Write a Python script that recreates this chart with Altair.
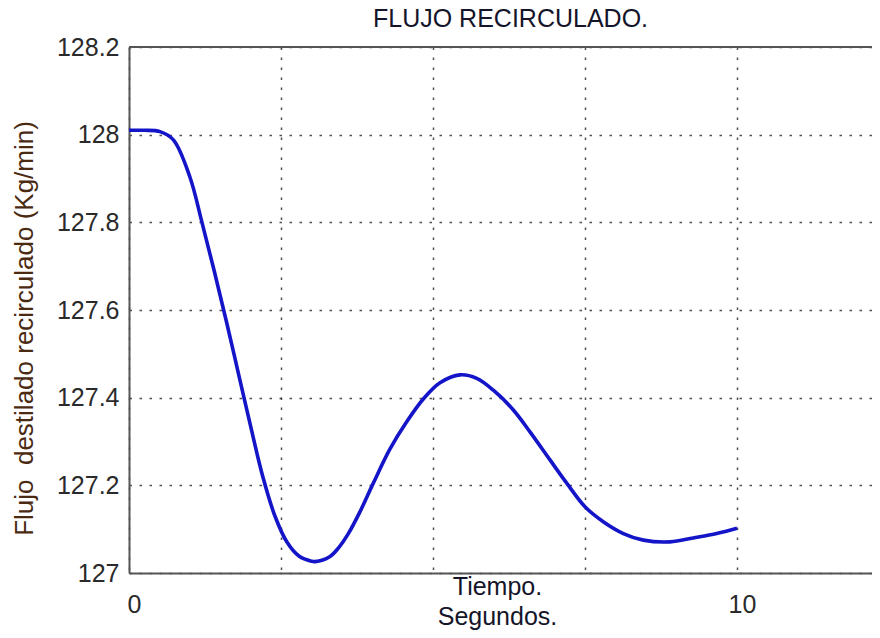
import altair as alt
import pandas as pd

# Time (s) and recirculated flow (Kg/min)
tiempo = [0.0, 0.25, 0.51, 0.73, 1.00, 1.20, 1.40, 1.60, 1.80, 2.00,
          2.20, 2.40, 2.60, 2.80, 3.00, 3.06, 3.30, 3.45, 3.60, 3.80,
          4.018, 4.293, 4.567, 4.840, 5.115, 5.444, 5.719, 5.992, 6.321, 6.595,
          6.924, 7.199, 7.50, 7.80, 8.13, 8.46, 8.90, 9.281, 9.666, 10.0]
flujo = [128.01, 128.01, 128.007, 127.988, 127.904, 127.800, 127.690, 127.575, 127.455, 127.335,
         127.220, 127.130, 127.070, 127.038, 127.027, 127.026, 127.037, 127.058, 127.088, 127.140,
         127.205, 127.283, 127.345, 127.397, 127.434, 127.452, 127.444, 127.417, 127.372, 127.322,
         127.258, 127.205, 127.151, 127.117, 127.090, 127.075, 127.071, 127.080, 127.090, 127.102]

x_ticks = [0, 2.5, 5, 7.5, 10]
y_ticks = [127.0, 127.2, 127.4, 127.6, 127.8, 128.0, 128.2]
x_domain = [0, 12.22]
y_domain = [127.0, 128.2]

df = pd.DataFrame({"t": tiempo, "v": flujo})

FONT = "Liberation Sans"

line = alt.Chart(df).mark_line(
    color="#1414c8", strokeWidth=3.6, interpolate="catmull-rom"
).encode(
    x=alt.X(
        "t:Q",
        scale=alt.Scale(domain=x_domain, nice=False, zero=False),
        axis=alt.Axis(
            values=x_ticks,
            labelExpr="(datum.value == 0 || datum.value == 10) ? datum.value : ''",
            grid=True, ticks=False, domain=True,
            domainColor="#555555", domainWidth=2,
            gridColor="#333333", gridDash=[2.5, 7.5], gridWidth=1.5, gridOpacity=0.85,
            labelFont=FONT, labelFontSize=25, labelColor="#2a2a2a",
            labelBaseline="middle", labelPadding=31, labelOffset=5, labelFlush=False,
            title=["Tiempo.", "Segundos."],
            titleFont=FONT, titleFontSize=25, titleFontWeight="normal",
            titleColor="#15152a", titleX=368, titleY=21, titleBaseline="alphabetic",
            titleLineHeight=30, titleAlign="center",
        ),
    ),
    y=alt.Y(
        "v:Q",
        scale=alt.Scale(domain=y_domain, nice=False, zero=False),
        axis=alt.Axis(
            values=y_ticks, format=".1~f",
            grid=True, ticks=False, domain=True,
            domainColor="#555555", domainWidth=2,
            gridColor="#333333", gridDash=[2.5, 7.5], gridWidth=1.5, gridOpacity=0.85,
            labelFont=FONT, labelFontSize=25, labelColor="#2a2a2a",
            labelPadding=10, labelFlush=False,
            title="Flujo\u00a0 destilado recirculado (Kg/min)",
            titleFont=FONT, titleFontSize=26, titleFontWeight="normal",
            titleColor="#4b2a12", titleX=-97, titleY=281,
            titleBaseline="alphabetic", titleAlign="center", titleAngle=270,
        ),
    ),
)

top_border = alt.Chart(pd.DataFrame({"dummy": [0]})).mark_rule(
    color="#555555", strokeWidth=2
).encode(y=alt.datum(y_domain[1]))

chart = alt.layer(line, top_border).properties(
    width=743,
    height=526,
    autosize=alt.AutoSizeParams(type="none"),
    padding={"left": 121, "top": 39, "right": 0, "bottom": 57},
    title=alt.TitleParams(
        "FLUJO RECIRCULADO.", font=FONT, fontSize=25, fontWeight="normal",
        color="#14142a", anchor="middle", frame="group", dx=10, dy=17, offset=0,
        baseline="alphabetic",
    ),
).configure_view(stroke=None).configure(background="white")

chart.save("out.html", embed_options={"renderer": "svg", "actions": False})
